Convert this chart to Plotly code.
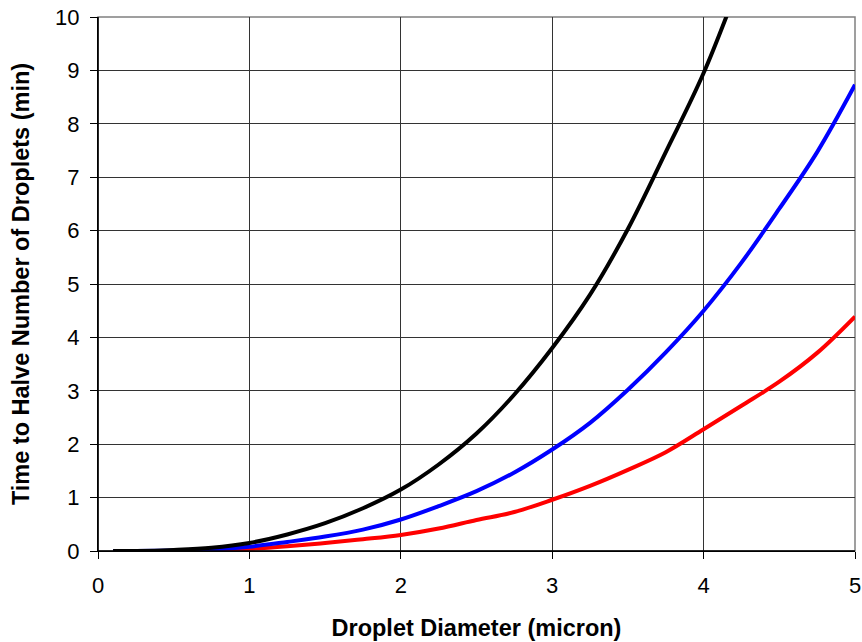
import plotly.graph_objects as go

diameter = [0.1, 0.25, 0.5, 0.75, 1.0, 1.25, 1.5, 1.75, 2.0, 2.25, 2.5, 2.75,
            3.0, 3.25, 3.5, 3.75, 4.0, 4.25, 4.5, 4.75, 5.0]

black_time = [0.0, 0.0, 0.02, 0.06, 0.15, 0.31, 0.52, 0.80, 1.15, 1.62, 2.20, 2.93,
              3.80, 4.80, 6.03, 7.47, 8.95, 10.75]
blue_time = [0.0, 0.0, 0.01, 0.03, 0.08, 0.17, 0.27, 0.40, 0.59, 0.84, 1.12, 1.47,
             1.90, 2.40, 3.02, 3.72, 4.50, 5.40, 6.41, 7.47, 8.73]
red_time = [0.0, 0.0, 0.0, 0.01, 0.04, 0.09, 0.15, 0.22, 0.30, 0.42, 0.58, 0.73,
            0.96, 1.22, 1.52, 1.85, 2.28, 2.72, 3.17, 3.71, 4.39]

x_ticks = [0, 1, 2, 3, 4, 5]
y_ticks = [0, 1, 2, 3, 4, 5, 6, 7, 8, 9, 10]

fig = go.Figure()
for ys, col in [(red_time, "#ff0000"), (blue_time, "#0000ff"), (black_time, "#000000")]:
    fig.add_trace(go.Scatter(
        x=diameter[:len(ys)], y=ys, mode="lines",
        line=dict(color=col, width=4, shape="spline", smoothing=1.0),
        showlegend=False, hoverinfo="x+y"))

font_family = "Liberation Sans, Arial, sans-serif"

fig.update_layout(
    width=862, height=642,
    margin=dict(l=98, r=7, t=17, b=91),
    paper_bgcolor="white", plot_bgcolor="white",
    font=dict(family=font_family, color="black", size=22),
    xaxis=dict(
        range=[0, 5], tickvals=x_ticks, ticktext=[str(v) for v in x_ticks],
        showgrid=True, gridcolor="#333333", gridwidth=1,
        showline=True, linecolor="black", linewidth=1,
        ticks="outside", ticklen=7, tickcolor="black",
        ticklabelstandoff=8, automargin=False,
        zeroline=False,
        title=dict(text="<b>Droplet Diameter (micron)</b>",
                   font=dict(size=23.5, family=font_family), standoff=22),
    ),
    yaxis=dict(
        range=[0, 10], tickvals=y_ticks, ticktext=[str(v) for v in y_ticks],
        showgrid=True, gridcolor="#333333", gridwidth=1,
        showline=True, linecolor="black", linewidth=1,
        ticks="outside", ticklen=7, tickcolor="black",
        ticklabelstandoff=6, automargin=False,
        zeroline=False,
        title=dict(text="<b>Time to Halve Number of Droplets (min)</b>",
                   font=dict(size=23.5, family=font_family), standoff=18),
    ),
)

fig.add_shape(type="rect", xref="paper", yref="paper", x0=0, y0=0, x1=1, y1=1,
              line=dict(color="#808080", width=1.5), layer="below")
fig.add_shape(type="line", xref="paper", yref="paper", x0=0, y0=0, x1=0, y1=1,
              line=dict(color="black", width=1.5))
fig.add_shape(type="line", xref="paper", yref="paper", x0=0, y0=0, x1=1, y1=0,
              line=dict(color="black", width=1.5))

fig.write_html("out.html")
